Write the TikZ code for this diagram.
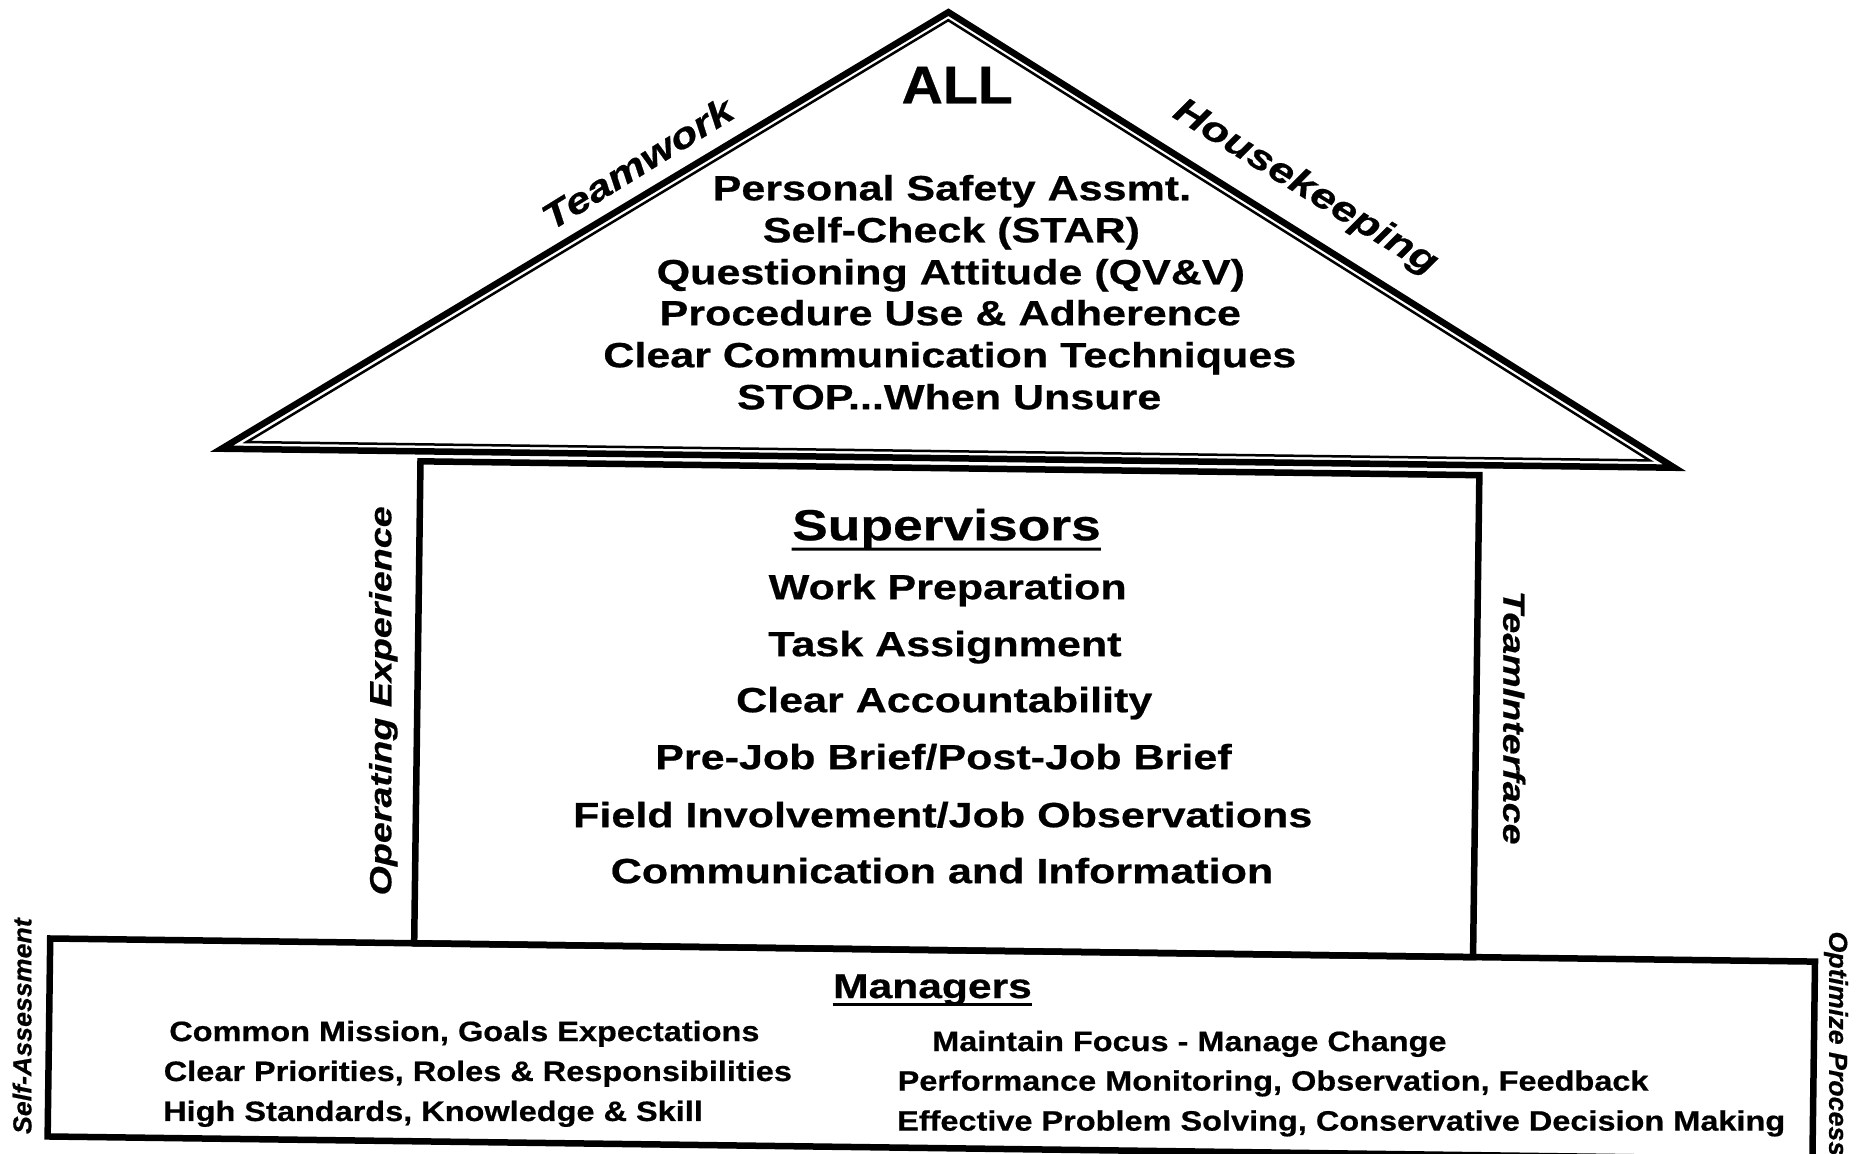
\documentclass[tikz,border=0pt]{standalone}
\usepackage{fontspec}
\setmainfont{Liberation Sans}
\newfontfamily\hvwide[FakeStretch=1.23,FakeBold=0.6]{Liberation Sans}
\newfontfamily\hvwider[FakeStretch=1.16,FakeBold=0.6]{Liberation Sans}
\newfontfamily\hvnarrow[FakeStretch=1.08,FakeBold=0.6]{Liberation Sans}
\newfontfamily\hvside[FakeStretch=1.03,FakeBold=0.6]{Liberation Sans}
\begin{document}
\begin{tikzpicture}[x=0.5pt,y=-0.5pt,
  heavy/.style={line width=3.25pt, line join=miter},
  light/.style={line width=1.25pt, line join=miter},
  roofline/.style={inner sep=0pt, anchor=base, font=\hvwide\bfseries\fontsize{17.5}{20}\selectfont},
  supline/.style={inner sep=0pt, anchor=base, font=\hvwide\bfseries\fontsize{17.5}{20}\selectfont},
  suphead/.style={inner sep=0pt, anchor=base, font=\hvwide\bfseries\fontsize{21.7}{24}\selectfont},
  mgrhead/.style={inner sep=0pt, anchor=base, font=\hvwide\bfseries\fontsize{17.3}{20}\selectfont},
  mgrline/.style={inner sep=0pt, anchor=base west, font=\hvwider\bfseries\fontsize{14}{16}\selectfont},
  slant/.style={inner sep=0pt, font=\hvwide\bfseries\itshape\fontsize{18}{20}\selectfont},
  pillar/.style={inner sep=0pt, font=\hvwide\bfseries\itshape\fontsize{15.3}{18}\selectfont},
  edge/.style={inner sep=0pt, font=\hvside\bfseries\itshape\fontsize{13}{15}\selectfont},
  rule/.style={line width=1.5pt}]
\useasboundingbox (0,0) rectangle (1859,1154);
\fill[white] (0,0) rectangle (1859,1154);
\clip (0,0) rectangle (1859,1154);
\begin{scope}[rotate around={-0.75:(930,577)}]
  % roof: heavy outer outline with a thin inner outline
  \draw[heavy] (220,458) -- (941,12) -- (1673,458) -- cycle;
  \draw[light] (245,451) -- (941,20) -- (1648,451) -- cycle;

  % body of the house and its foundation
  \draw[heavy] (419,468) rectangle (1478,950);
  \draw[heavy] (55,950) rectangle (1820,1148);

  % roof contents
  \node[inner sep=0pt, anchor=base, font=\hvnarrow\bfseries\fontsize{26.5}{30}\selectfont] (all) at (951,103) {ALL};
  \node[roofline] (r1) at (947,200) {Personal Safety Assmt.};
  \node[roofline] (r2) at (947,242) {Self-Check (STAR)};
  \node[roofline] (r3) at (947,284) {Questioning Attitude (QV\&V)};
  \node[roofline] (r4) at (947,325) {Procedure Use \& Adherence};
  \node[roofline] (r5) at (947,367) {Clear Communication Techniques};
  \node[roofline] (r6) at (947,409) {STOP...When Unsure};

  % labels along the roof slopes
  \node[slant, rotate=31.7] (teamwork) at (632,167) {Teamwork};
  \node[slant, rotate=-31.6] (housekeeping) at (1300,183) {Housekeeping};

  % supervisors
  \node[suphead] (sup) at (946,540) {Supervisors};
  \draw[rule] ([yshift=-4.5pt]sup.base west) -- ([yshift=-4.5pt]sup.base east);
  \node[supline] (s1) at (948,599) {Work Preparation};
  \node[supline] (s2) at (946,656) {Task Assignment};
  \node[supline] (s3) at (946,712) {Clear Accountability};
  \node[supline] (s4) at (946,769) {Pre-Job Brief/Post-Job Brief};
  \node[supline] (s5) at (946,827) {Field Involvement/Job Observations};
  \node[supline] (s6) at (946,883) {Communication and Information};

  % pillars beside the body
  \node[pillar, rotate=90] (opexp) at (385,708) {Operating Experience};
  \node[pillar, rotate=-90] (teamif) at (1516,710) {TeamInterface};

  % managers
  \node[mgrhead] (mgr) at (938,998) {Managers};
  \draw[rule] ([yshift=-3.5pt]mgr.base west) -- ([yshift=-3.5pt]mgr.base east);
  \node[mgrline] (m1) at (175,1051) {Common Mission, Goals Expectations};
  \node[mgrline] (m2) at (170,1091) {Clear Priorities, Roles \& Responsibilities};
  \node[mgrline] (m3) at (170,1131) {High Standards, Knowledge \& Skill};
  \node[mgrline] (m4) at (938,1051) {Maintain Focus - Manage Change};
  \node[mgrline] (m5) at (904,1091) {Performance Monitoring, Observation, Feedback};
  \node[mgrline] (m6) at (904,1131) {Effective Problem Solving, Conservative Decision Making};

  % outer edge labels
  \node[edge, rotate=90] (selfassess) at (28,1038) {Self-Assessment};
  \node[edge, rotate=-90] (optimize) at (1842,1032) {Optimize Process};
\end{scope}
\end{tikzpicture}
\end{document}
